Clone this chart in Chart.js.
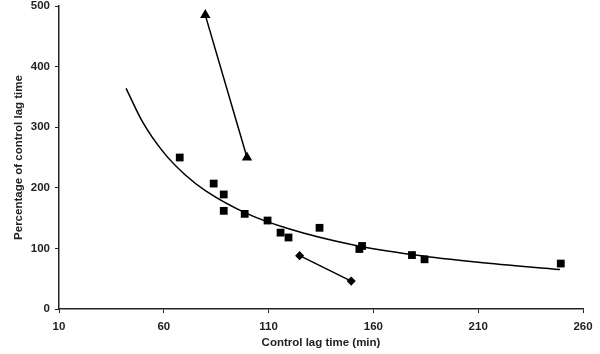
<!DOCTYPE html>
<html><head><meta charset="utf-8">
<script src="https://cdn.jsdelivr.net/npm/chart.js@4/dist/chart.umd.min.js"></script>
<style>html,body{margin:0;padding:0;background:#fff}#wrap{width:600px;height:354px}</style>
</head><body><div id="wrap"><canvas id="c" width="600" height="354"></canvas></div>
<script>
// Squares: control lag time (min) vs percentage of control lag time
const squareX = [67.6, 83.8, 88.6, 88.6, 98.6, 109.5, 115.7, 119.5, 134.3, 154.6, 153.3, 178.4, 184.4, 249.4];
const squareY = [250, 207, 189, 162, 157, 146, 126, 118, 134, 104, 99, 89, 82, 75];
// Triangles (connected)
const triX = [79.8, 99.7];
const triY = [485, 250];
// Diamonds (connected)
const diaX = [124.8, 149.4];
const diaY = [88, 46];
// Trend curve, points
const curveX = [42, 50, 60, 70, 80, 100, 120, 150, 180, 210, 249];
const curveY = [364, 308, 258, 222, 195, 157, 132, 106, 89, 77, 65];
// Ticks
const xTicks = [10, 60, 110, 160, 210, 260];
const yTicks = [0, 100, 200, 300, 400, 500];

const pts = (xs, ys) => xs.map((x, i) => ({x, y: ys[i]}));
const font = {family: '"Liberation Sans", Arial, sans-serif', size: 11.5, weight: 'bold'};
const ink = '#222';

new Chart(document.getElementById('c'), {
  type: 'scatter',
  data: {datasets: [
    {data: pts(curveX, curveY), showLine: true, pointRadius: 0, borderColor: '#000', borderWidth: 1.5, cubicInterpolationMode: 'monotone', fill: false},
    {data: pts(triX, triY), showLine: true, pointStyle: 'triangle', pointRadius: 4.5, backgroundColor: '#000', borderColor: '#000', borderWidth: 1.5},
    {data: pts(diaX, diaY), showLine: true, pointStyle: 'rectRot', pointRadius: 3.5, backgroundColor: '#000', borderColor: '#000', borderWidth: 1.5},
    {data: pts(squareX, squareY), showLine: false, pointStyle: 'rect', pointRadius: 5.5, backgroundColor: '#000', borderColor: '#000', borderWidth: 0}
  ]},
  options: {
    responsive: false, animation: false,
    layout: {padding: {top: 6, right: 17, bottom: 0, left: 0}},
    plugins: {legend: {display: false}, tooltip: {enabled: false}},
    scales: {
      x: {
        type: 'linear', min: xTicks[0], max: xTicks[xTicks.length - 1],
        afterBuildTicks: s => { s.ticks = xTicks.map(v => ({value: v})); },
        afterFit: s => { s.height = 45; s.paddingLeft = 0; s.paddingRight = 0; },
        grid: {drawOnChartArea: false, drawTicks: true, tickLength: 4, color: ink, tickWidth: 1},
        border: {display: true, color: ink, width: 1.5},
        ticks: {color: ink, font: font, padding: 7, maxRotation: 0},
        title: {display: true, text: 'Control lag time (min)', color: ink, font: font, padding: {top: 0, bottom: 4}}
      },
      y: {
        type: 'linear', min: yTicks[0], max: yTicks[yTicks.length - 1],
        afterBuildTicks: s => { s.ticks = yTicks.map(v => ({value: v})); },
        afterFit: s => { s.width = 59; s.paddingTop = 0; s.paddingBottom = 0; },
        grid: {drawOnChartArea: false, drawTicks: true, tickLength: 4, color: ink, tickWidth: 1},
        border: {display: true, color: ink, width: 1.5},
        ticks: {color: ink, font: font, padding: 5},
        title: {display: true, text: 'Percentage of control lag time', color: ink, font: font, padding: {top: 12, bottom: 0}}
      }
    }
  }
});
</script></body></html>
